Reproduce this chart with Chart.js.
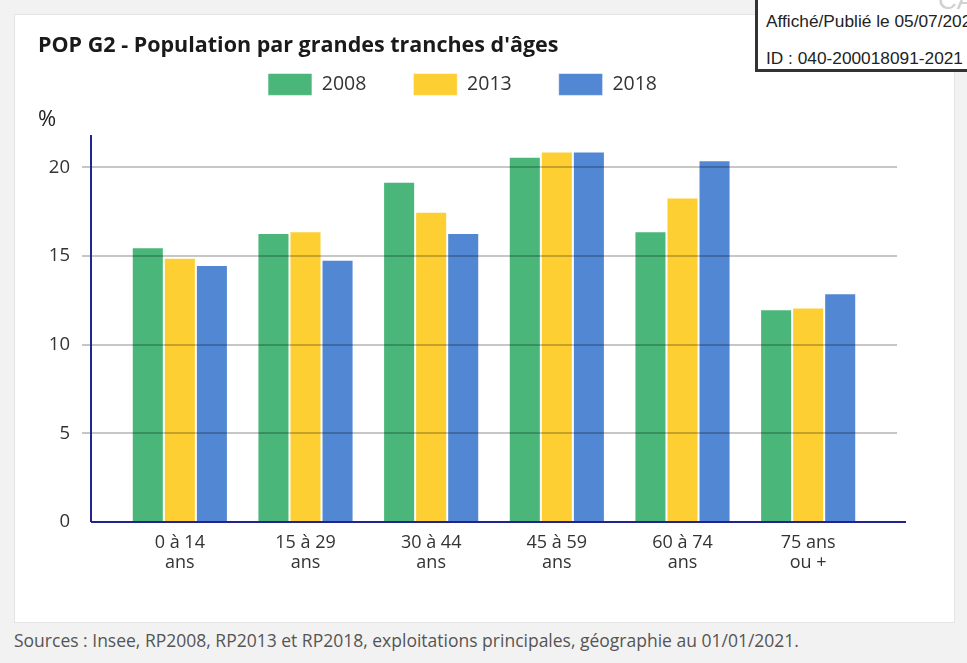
<!DOCTYPE html>
<html>
<head>
<meta charset="utf-8">
<script src="https://cdn.jsdelivr.net/npm/chart.js@4/dist/chart.umd.min.js"></script>
<style>
  body { margin: 0; width: 967px; height: 663px; overflow: hidden; background: #f2f2f2; font-family: "Open Sans", sans-serif; position: relative; }
  #panel { position: absolute; left: 14px; top: 14px; width: 941px; height: 609px; background: #fff; border: 1px solid #e4e4e4; box-sizing: border-box; }
  #wrap { position: absolute; left: -1px; top: -1px; width: 941px; height: 608px; }
  #source { position: absolute; left: 14px; top: 628px; font-size: 17.5px; color: #555; white-space: nowrap; }
  #stamp { position: absolute; left: 755px; top: -4px; width: 260px; height: 76px; background: #fff; border: 3px solid #333; box-sizing: border-box; font-family: "Liberation Sans", Arial, sans-serif; font-size: 17.3px; color: #222; white-space: nowrap; }
  #stamp .l1 { position: absolute; left: 8px; top: 12px; }
  #stamp .l2 { position: absolute; left: 8px; top: 49px; }
  #stamp .ca { position: absolute; left: 180px; top: -14px; font-size: 26px; color: #d0d0d0; }
</style>
</head>
<body>
<div id="panel"><div id="wrap"><canvas id="popChart"></canvas></div></div>
<div id="source">Sources : Insee, RP2008, RP2013 et RP2018, exploitations principales, géographie au 01/01/2021.</div>
<div id="stamp"><span class="ca">CA</span><span class="l1">Affiché/Publié le 05/07/2021</span><span class="l2">ID : 040-200018091-2021</span></div>
<script>
// Data
const categories = [['0 à 14', 'ans'], ['15 à 29', 'ans'], ['30 à 44', 'ans'], ['45 à 59', 'ans'], ['60 à 74', 'ans'], ['75 ans', 'ou +']];
const years = ['2008', '2013', '2018'];
const values2008 = [15.5, 16.3, 19.2, 20.6, 16.4, 12.0];
const values2013 = [14.9, 16.4, 17.5, 20.9, 18.3, 12.1];
const values2018 = [14.5, 14.8, 16.3, 20.9, 20.4, 12.9];
const yTicks = [0, 5, 10, 15, 20];

const colors = ['#4ab67a', '#fecf33', '#5287d3'];
const axisColor = '#23238f';

// gridlines, axis lines and the "%" unit, drawn from the y scale
const axesPlugin = {
    id: 'axesPlugin',
    afterLayout(chart) {
        chart.legend.left += 8;
        chart.legend.right += 8;
        chart.legend.top -= 32;
        chart.legend.bottom -= 32;
    },
    afterDatasetsDraw(chart) {
        const ctx = chart.ctx;
        const y = chart.scales.y;
        const area = chart.chartArea;
        const axisX = area.left - 26;
        const axisEnd = area.right + 35;
        ctx.save();
        ctx.lineWidth = 2;
        ctx.strokeStyle = 'rgba(0, 0, 0, 0.22)';
        yTicks.forEach(v => {
            if (v === 0) return;
            const py = Math.round(y.getPixelForValue(v));
            ctx.beginPath();
            ctx.moveTo(axisX - 9, py);
            ctx.lineTo(axisEnd - 9, py);
            ctx.stroke();
        });
        ctx.strokeStyle = axisColor;
        ctx.beginPath();
        ctx.moveTo(axisX, y.getPixelForValue(0));
        ctx.lineTo(axisEnd, y.getPixelForValue(0));
        ctx.moveTo(axisX, y.getPixelForValue(0));
        ctx.lineTo(axisX, area.top + 3);
        ctx.stroke();
        ctx.fillStyle = '#222';
        ctx.font = '22px "Open Sans"';
        ctx.textBaseline = 'alphabetic';
        ctx.fillText('%', 24, 112);
        ctx.restore();
    }
};

const ctx = document.getElementById('popChart').getContext('2d');
const popChart = new Chart(ctx, {
    type: 'bar',
    data: {
        labels: categories,
        datasets: [
            { label: years[0], data: values2008, backgroundColor: colors[0] },
            { label: years[1], data: values2013, backgroundColor: colors[1] },
            { label: years[2], data: values2018, backgroundColor: colors[2] }
        ]
    },
    options: {
        responsive: true,
        maintainAspectRatio: false,
        animation: false,
        layout: { padding: { left: 24, right: 84, top: 0, bottom: 0 } },
        datasets: {
            bar: {
                categoryPercentage: 0.765,
                barPercentage: 1.0,
                borderWidth: 1,
                borderColor: 'rgba(255, 255, 255, 0.6)'
            }
        },
        scales: {
            x: {
                grid: { display: false },
                border: { display: false },
                ticks: {
                    color: '#333',
                    font: { family: 'Open Sans', size: 18, lineHeight: 1.12 },
                    padding: 3,
                    maxRotation: 0,
                    autoSkip: false
                },
                afterFit(scale) { scale.height = 100; }
            },
            y: {
                min: 0,
                max: 22,
                grid: { display: false },
                border: { display: false },
                ticks: {
                    stepSize: 5,
                    color: '#333',
                    font: { family: 'Open Sans', size: 18.5 },
                    padding: 39
                },
                afterBuildTicks(scale) {
                    scale.ticks = yTicks.map(v => ({ value: v }));
                },
                afterFit(scale) { scale.width = 79; }
            }
        },
        plugins: {
            title: {
                display: true,
                text: "POP G2 - Population par grandes tranches d'âges",
                align: 'start',
                color: '#1a1a1a',
                font: { family: 'Open Sans', size: 21.5, weight: 'bold', lineHeight: 1.2 },
                padding: { top: 18.6, bottom: 0 }
            },
            legend: {
                position: 'top',
                maxHeight: 73.6,
                labels: {
                    boxWidth: 44,
                    boxHeight: 22,
                    padding: 47,
                    color: '#333',
                    font: { family: 'Open Sans', size: 19.5 }
                }
            },
            tooltip: { enabled: false }
        }
    },
    plugins: [axesPlugin]
});
</script>
</body>
</html>
